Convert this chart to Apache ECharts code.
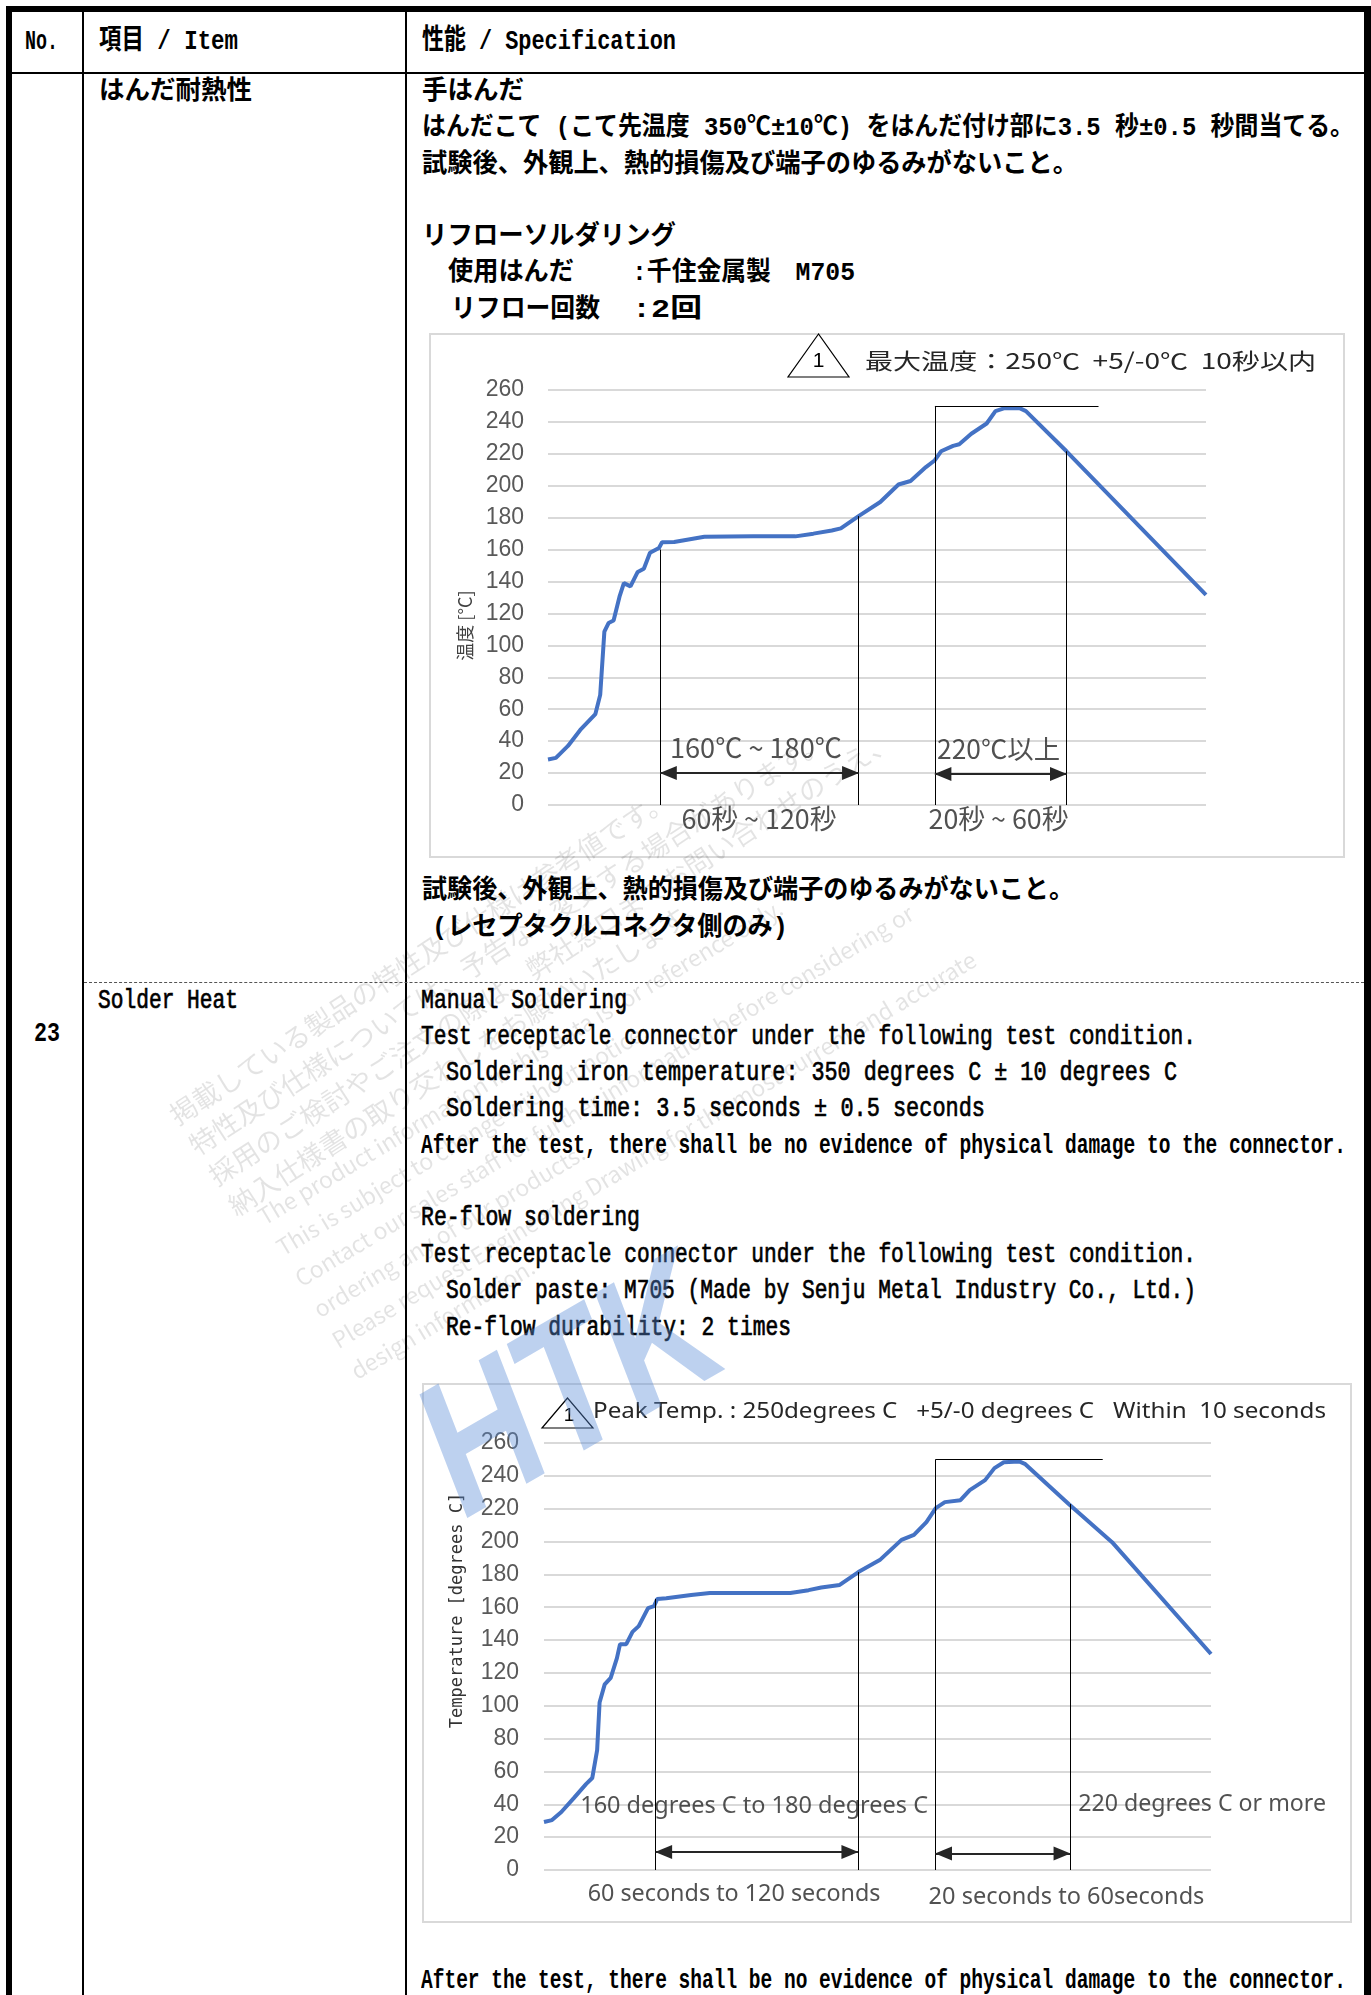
<!DOCTYPE html>
<html lang="ja">
<head>
<meta charset="utf-8">
<title>はんだ耐熱性 / Solder Heat</title>
<script src="https://cdn.jsdelivr.net/npm/echarts@6/dist/echarts.min.js"></script>
<style>
html, body { margin: 0; padding: 0; background: #fff; }
#page { position: relative; width: 1371px; height: 1995px; overflow: hidden; background: #fff; }
.rule { position: absolute; background: #000; }
.dash { position: absolute; height: 0; border-top: 1px dashed #555; }
.t { position: absolute; white-space: nowrap; height: 36px; line-height: 36px; font-size: 28px; color: #000;
     font-family: 'Liberation Mono', 'Noto Sans CJK JP', monospace; transform-origin: 0 50%; }
.jp { font-weight: 700; font-size: 26px; }
.en { font-weight: 400; -webkit-text-stroke: 0.7px #000; }
.enb { font-weight: 700; }
.box { position: absolute; border: 2px solid #d9d9d9; box-sizing: border-box; }
.chart { position: absolute; }
.wm { position: absolute; white-space: pre; transform-origin: 0 0; pointer-events: none; z-index: 20;
      color: rgba(0, 0, 0, 0.11); font-family: 'Noto Sans CJK JP', 'Liberation Sans', sans-serif; line-height: 36px; }
.htk { position: absolute; pointer-events: none; z-index: 21; font: italic 700 190px 'Liberation Sans', sans-serif;
       color: rgba(90, 140, 215, 0.40); transform-origin: 50% 50%; white-space: nowrap; }
</style>
</head>
<body>
<div id="page">
  <div class="box" style="left:429px;top:333px;width:916px;height:525px"></div>
  <div id="chart1" class="chart" style="left:429px;top:333px;width:916px;height:525px"></div>
  <div class="box" style="left:422px;top:1383px;width:930px;height:540px"></div>
  <div id="chart2" class="chart" style="left:422px;top:1383px;width:930px;height:540px"></div>
</div>
<script>
// ---- data: reflow temperature profile, time [s] / temperature [°C] ----
const yMin = 0;
const yMax = 260;
const yStep = 20;
const tMax = 300;

// Japanese chart
const jpTime = [0, 3.6, 9.1, 14.7, 21.6, 23.8, 25.7, 27.6, 29.9, 32.6, 34.6, 37.6, 40.9, 43.7, 46.5, 50.6, 52,
  57.5, 71.3, 93.5, 112.8, 121, 129.4, 133.5, 141.6, 151.5, 159.8, 165.3, 172.3, 176.4, 179.2, 184.7, 187.5,
  193, 200, 204, 208.2, 215, 217.9, 236.4, 300];
const jpTemp = [28.5, 29.5, 37, 47, 57, 69, 108.6, 114, 115.6, 130.5, 139, 137, 146, 148, 158, 161, 164.6,
  164.8, 168, 168.3, 168.3, 170, 172, 173.3, 181, 189.8, 200.8, 203, 211.7, 216, 221.6, 225, 226,
  232.6, 239, 246.8, 248.6, 248.6, 246.8, 221.6, 131.6];
const jpZoneTimes = [51.2, 141.6, 176.4, 236.4];
const jpZoneTops = [160, 181, 250, 221.6];
const jpPeakSpan = [176.4, 251];
const jpArrowTemps = [20, 19.5];
const jpLabels = ['160℃ ~ 180℃', '220℃以上', '60秒 ~ 120秒', '20秒 ~ 60秒'];
const jpLabelAt = [[94.8, 36], [205.4, 35], [96.2, -8.8], [205.4, -8.8]];
const jpTitle = '最大温度：250℃  +5/-0℃  10秒以内';
const jpYName = '温度 [°C]';

// English chart
const enTime = [0, 3.6, 7.8, 13.4, 18.9, 21.7, 23.9, 25, 27.3, 30, 32.8, 34.2, 37, 39.8, 42.6, 46.8, 49.5,
  50.9, 55, 66.2, 74.6, 110.8, 119, 124.7, 133, 141.4, 151, 160.8, 166.4, 172, 176.2, 180.3, 187.3, 191.5,
  198.4, 202.6, 206.8, 213.7, 216.5, 236, 255.5, 300];
const enTemp = [29.2, 30.4, 35.3, 43.8, 52.3, 56, 73, 102, 113, 117, 129, 137.5, 137.5, 145, 148.5, 159.5,
  160.7, 165, 165.5, 167.5, 168.7, 168.7, 170.4, 172, 173.6, 181.4, 188.7, 201, 204, 211.8, 220.3, 224,
  225.2, 231.3, 237.4, 244.7, 248.3, 248.8, 247.1, 222.8, 199.6, 131.5];
const enZoneTimes = [50.2, 141.2, 176.1, 236.6];
const enZoneTops = [165, 181.4, 250, 222.8];
const enPeakSpan = [176.1, 251.3];
const enArrowTemps = [11, 10];
const enLabels = ['160 degrees C to 180 degrees C', '220 degrees C or more', '60 seconds to 120 seconds', '20 seconds to 60seconds'];
const enLabelAt = [[94.5, 39], [296, 40], [85.5, -14.6], [235, -16.4]];
const enTitle = 'Peak Temp. : 250degrees C   +5/-0 degrees C   Within  10 seconds';
const enYName = 'Temperature [degrees C]';

const peakTemp = 250;

// ---- page text (table) ----
const page = document.getElementById('page');
const rules = [
  [6, 6, 1365, 6], [6, 6, 6, 1989], [1364, 6, 7, 1989],
  [12, 72, 1352, 2], [82, 12, 2, 1983], [405, 12, 2, 1983]
];
rules.forEach(r => {
  const d = document.createElement('div');
  d.className = 'rule';
  d.style.cssText = `left:${r[0]}px;top:${r[1]}px;width:${r[2]}px;height:${r[3]}px`;
  page.appendChild(d);
});
const dash = document.createElement('div');
dash.className = 'dash';
dash.style.cssText = 'left:84px;top:982px;width:1280px';
page.appendChild(dash);

const texts = [
  ['No.', 25, 42, 33, 'enb'],
  ['項目 / Item', 99, 42, 139, 'enb'],
  ['性能 / Specification', 422, 42, 254, 'enb'],
  ['はんだ耐熱性', 99, 92, 153, 'jp'],
  ['手はんだ', 422, 92, 102, 'jp'],
  ['はんだこて (こて先温度 350℃±10℃) をはんだ付け部に3.5 秒±0.5 秒間当てる。', 422, 128, 932, 'jp'],
  ['試験後、外観上、熱的損傷及び端子のゆるみがないこと。', 422, 165, 656, 'jp'],
  ['リフローソルダリング', 422, 237, 254, 'jp'],
  ['使用はんだ', 448, 273, 126, 'jp'],
  [':千住金属製　M705', 632, 273, 223, 'jp'],
  ['リフロー回数', 451, 310, 149, 'jp'],
  [':2回', 632, 310, 70, 'jp'],
  ['試験後、外観上、熱的損傷及び端子のゆるみがないこと。', 422, 891, 652, 'jp'],
  ['(レセプタクルコネクタ側のみ)', 432, 928, 356, 'jp'],
  ['23', 34, 1034, 26, 'enb'],
  ['Solder Heat', 98, 1001, 140, 'en'],
  ['Manual Soldering', 421, 1001, 206, 'en'],
  ['Test receptacle connector under the following test condition.', 421, 1037, 775, 'en'],
  ['Soldering iron temperature: 350 degrees C ± 10 degrees C', 446, 1073, 731, 'en'],
  ['Soldering time: 3.5 seconds ± 0.5 seconds', 446, 1109, 539, 'en'],
  ['After the test, there shall be no evidence of physical damage to the connector.', 421, 1146, 925, 'enb'],
  ['Re-flow soldering', 421, 1218, 219, 'en'],
  ['Test receptacle connector under the following test condition.', 421, 1255, 775, 'en'],
  ['Solder paste: M705 (Made by Senju Metal Industry Co., Ltd.)', 446, 1291, 750, 'en'],
  ['Re-flow durability: 2 times', 446, 1328, 345, 'en'],
  ['After the test, there shall be no evidence of physical damage to the connector.', 421, 1981, 925, 'enb']
];
texts.forEach(t => {
  const d = document.createElement('div');
  d.className = 't ' + t[4];
  d.textContent = t[0];
  d.style.left = t[1] + 'px';
  d.style.top = (t[2] - 18) + 'px';
  d.dataset.w = t[3];
  page.appendChild(d);
});
function fitTexts() {
  document.querySelectorAll('.t').forEach(el => {
    el.style.transform = 'none';
    const nat = el.getBoundingClientRect().width;
    el.style.transform = 'scaleX(' + (el.dataset.w / nat) + ')';
  });
}
fitTexts();

// ---- watermarks ----
const wmJp = '掲載している製品の特性及び仕様は参考値です。\n特性及び仕様については、予告なく変更する場合があります。\n採用のご検討やご注文の際は、弊社窓口までお問い合わせのうえ、\n納入仕様書の取り交わしをお願いいたします。';
const wmEn = 'The product information in this data is for reference only.\nThis is subject to change without notice.\nContact our sales staff for further information before considering or\nordering any of our products.\nPlease request Engineering Drawing for the most current and accurate\ndesign information.';
[[wmJp, 162, 1102, -33, 27], [wmEn, 250, 1202, -31, 23]].forEach(w => {
  const d = document.createElement('div');
  d.className = 'wm';
  d.textContent = w[0];
  d.style.cssText = `left:${w[1]}px;top:${w[2]}px;font-size:${w[4]}px;transform:rotate(${w[3]}deg)`;
  page.appendChild(d);
});
const htk = document.createElement('div');
htk.className = 'htk';
htk.textContent = 'HTK';
htk.style.cssText = 'left:372px;top:1275px;transform:rotate(-30deg) scaleX(0.8)';
page.appendChild(htk);

// ---- charts ----
const meas = document.createElement('canvas').getContext('2d');
function textWidth(text, size, family) {
  meas.font = size + 'px ' + family;
  return meas.measureText(text).width;
}
function fitSize(text, target, family, base) {
  return base * target / textWidth(text, base, family);
}

function profileOption(c) {
  const curve = c.time.map((t, i) => [t, c.temp[i]]);
  const guides = c.zoneTimes.map((t, i) => [{ coord: [t, c.zoneTops[i]] }, { coord: [t, yMin] }]);
  guides.push([{ coord: [c.peakSpan[0], peakTemp] }, { coord: [c.peakSpan[1], peakTemp] }]);
  const arrows = c.arrowTemps.map((v, i) => [
    { coord: [c.zoneTimes[2 * i], v] }, { coord: [c.zoneTimes[2 * i + 1], v] }
  ]);
  const notes = c.labels.map((s, i) => ({
    name: s,
    value: c.labelAt[i],
    label: { fontSize: fitSize(s, c.labelWidths[i], c.font, 20) }
  }));
  const titleScale = c.titleWidth / textWidth(c.title, c.titleSize, c.font);
  return {
    animation: false,
    textStyle: { fontFamily: c.font },
    grid: c.grid,
    xAxis: { type: 'value', min: 0, max: tMax, show: false },
    yAxis: {
      type: 'value', min: yMin, max: yMax, interval: yStep,
      name: c.yName, nameLocation: 'middle', nameGap: c.nameGap,
      nameTextStyle: c.nameStyle,
      axisLine: { show: false }, axisTick: { show: false },
      axisLabel: { color: '#595959', fontSize: 23, fontFamily: 'Liberation Sans', margin: c.labelMargin },
      splitLine: { lineStyle: { color: '#d9d9d9', width: 1.8 } }
    },
    series: [
      {
        type: 'line', data: curve, symbol: 'none', z: 3,
        lineStyle: { color: '#4472c4', width: 4 }, itemStyle: { color: '#4472c4' },
        markLine: {
          silent: true, animation: false, symbol: ['none', 'none'], label: { show: false },
          lineStyle: { color: '#000', width: 1, type: 'solid' }, data: guides
        }
      },
      {
        type: 'line', data: [],
        markLine: {
          silent: true, animation: false, symbol: ['triangle', 'triangle'], symbolSize: [14, 17],
          symbolOffset: [[0, 8], [0, 8]], label: { show: false },
          lineStyle: { color: '#262626', width: 2, type: 'solid' }, itemStyle: { color: '#262626' },
          data: arrows
        }
      },
      {
        type: 'scatter', data: notes, symbolSize: 0, clip: false, silent: true,
        label: { show: true, position: 'inside', formatter: p => p.name, color: '#262626', fontFamily: c.font }
      }
    ],
    graphic: [
      { type: 'polygon', shape: { points: c.tri }, style: { fill: '#fff', stroke: '#000', lineWidth: 1.2 }, z: 10 },
      { type: 'text', x: c.triNum[0], y: c.triNum[1], z: 11,
        style: { text: '1', fontSize: c.triNum[2], fontFamily: 'Liberation Sans', fill: '#000', align: 'center', verticalAlign: 'middle' } },
      { type: 'text', x: c.titleAt[0], y: c.titleAt[1], scaleX: titleScale, z: 11,
        style: { text: c.title, fontSize: c.titleSize, fontFamily: c.font, fill: '#262626', verticalAlign: 'middle' } }
    ]
  };
}

const chart1 = echarts.init(document.getElementById('chart1'));
chart1.setOption(profileOption({
  time: jpTime, temp: jpTemp, zoneTimes: jpZoneTimes, zoneTops: jpZoneTops, peakSpan: jpPeakSpan,
  arrowTemps: jpArrowTemps, labels: jpLabels, labelAt: jpLabelAt, labelWidths: [172, 123, 155, 140],
  font: "'Noto Sans CJK JP', sans-serif",
  grid: { left: 119, right: 139, top: 57, bottom: 53 },
  yName: jpYName, nameGap: 74, labelMargin: 24,
  nameStyle: { fontSize: 18, color: '#404040', fontFamily: "'Noto Sans CJK JP', sans-serif", padding: [0, 56, 0, 0] },
  tri: [[389.5, 1], [359, 44], [420, 44]], triNum: [389.5, 28, 21],
  title: jpTitle, titleSize: 22, titleWidth: 451, titleAt: [436, 28]
}));

const chart2 = echarts.init(document.getElementById('chart2'));
chart2.setOption(profileOption({
  time: enTime, temp: enTemp, zoneTimes: enZoneTimes, zoneTops: enZoneTops, peakSpan: enPeakSpan,
  arrowTemps: enArrowTemps, labels: enLabels, labelAt: enLabelAt, labelWidths: [348, 248, 293, 276],
  font: "'Noto Sans', sans-serif",
  grid: { left: 122, right: 141, top: 60, bottom: 53 },
  yName: enYName, nameGap: 78, labelMargin: 25,
  nameStyle: { fontSize: 17, color: '#333', fontFamily: "'DejaVu Sans Mono', monospace", padding: [0, 0, 0, 92] },
  tri: [[145.5, 15], [120, 45], [171, 45]], triNum: [147, 33, 19],
  title: enTitle, titleSize: 22, titleWidth: 733, titleAt: [171, 29]
}));

if (document.fonts && document.fonts.ready) {
  document.fonts.ready.then(fitTexts);
}
</script>
</body>
</html>
